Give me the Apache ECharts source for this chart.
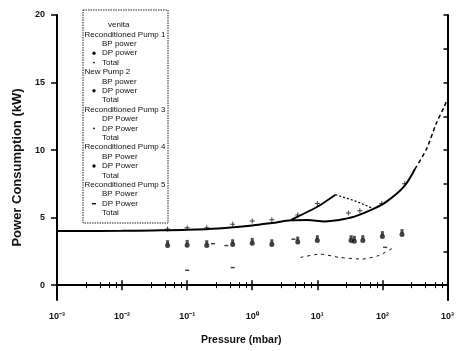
<!DOCTYPE html>
<html>
<head>
<meta charset="utf-8">
<script src="https://cdn.jsdelivr.net/npm/echarts@6/dist/echarts.min.js"></script>
<style>html,body{margin:0;padding:0;background:#fff}#c{width:457px;height:351px}</style>
</head>
<body>
<div id="c"></div>
<script>
// ---- data ----
const xTickValues = [0.001, 0.01, 0.1, 1, 10, 100, 1000];
const yTickValues = [0, 5, 10, 15, 20];
const yMinorTickValues = [0, 2.5, 5, 7.5, 10, 12.5, 15, 17.5, 20];

// Total (main solid curve) and its dashed extrapolation
const totalP = [0.001, 0.01, 0.03, 0.1, 0.3, 1, 2, 4, 7, 13, 20, 37, 74, 117, 214, 316];
const totalV = [4.0, 4.02, 4.05, 4.1, 4.2, 4.42, 4.6, 4.8, 4.82, 4.72, 4.8, 5.07, 5.66, 6.2, 7.3, 8.6];
const totalDashP = [316, 478, 676, 890, 1000];
const totalDashV = [8.6, 10.1, 12.0, 13.2, 13.8];

// second total curve with peak
const peakP = [4, 5, 10, 19];
const peakV = [4.85, 5.07, 5.8, 6.7];
const peakDashP = [19, 40, 70];
const peakDashV = [6.7, 6.2, 5.7];

// Total markers
const totMarkP = [0.05, 0.1, 0.2, 0.5, 1, 2, 5, 10, 30, 45, 98, 220];
const totMarkV = [4.15, 4.25, 4.25, 4.5, 4.75, 4.85, 5.2, 6.05, 5.35, 5.5, 6.05, 7.5];

// DP power markers
const dpP = [0.05, 0.1, 0.2, 0.5, 1, 2, 5, 10, 33, 37, 50, 100, 200];
const dpV = [2.93, 2.95, 2.93, 3.0, 3.1, 3.0, 3.2, 3.3, 3.3, 3.25, 3.3, 3.6, 3.75];

// BP power (lower dashed)
const bpP = [5.5, 11, 22, 49, 89, 150];
const bpV = [2.05, 2.3, 2.05, 1.93, 2.2, 2.8];
const bpIsoP = [0.1, 0.5];
const bpIsoV = [1.1, 1.3];

// other small dashes
const extraP = [0.25, 0.4, 4.3, 110];
const extraV = [3.07, 2.93, 3.4, 2.8];

// legend
const legendLabels = [
  'venita',
  'Reconditioned Pump 1', 'BP power', 'DP power', 'Total',
  'New Pump 2', 'BP power', 'DP power', 'Total',
  'Reconditioned Pump 3', 'DP Power', 'DP Power', 'Total',
  'Reconditioned Pump 4', 'BP Power', 'DP Power', 'Total',
  'Reconditioned Pump 5', 'BP Power', 'DP Power', 'Total'
];
const legendKinds = [
  't', 'h', 's', 'dot', 'sdot',
  'h', 's', 'dot', 's',
  'h', 's', 'sdot', 's',
  'h', 's', 'dot', 's',
  'h', 's', 'dash', 's'
];

// ---- build ----
const zip = (a, b) => a.map((v, i) => [v, b[i]]);
const FONT = '"Liberation Sans", Arial, sans-serif';
const sup = {'-': '\u207B', '0': '\u2070', '1': '\u00B9', '2': '\u00B2', '3': '\u00B3'};
function logLabel(v) {
  const e = Math.round(Math.log10(v));
  return '10' + String(e).split('').map(c => sup[c]).join('');
}

const legendEls = [];
legendEls.push({
  type: 'rect', shape: {x: 83, y: 10, width: 85, height: 213},
  style: {fill: '#fff', stroke: '#222', lineWidth: 1, lineDash: [1.5, 1]}, z: 10
});
legendLabels.forEach((t, i) => {
  const k = legendKinds[i];
  const y = 25 + i * 9.4;
  const x = k === 'h' ? 84.5 : (k === 't' ? 108 : 102);
  legendEls.push({
    type: 'text', x: x, y: y, z: 11,
    style: {text: t, fill: '#111', font: '8px ' + FONT, textVerticalAlign: 'middle'}
  });
  if (k === 'dot') legendEls.push({type: 'circle', shape: {cx: 94, cy: y, r: 1.7}, style: {fill: '#111'}, z: 11});
  if (k === 'sdot') legendEls.push({type: 'circle', shape: {cx: 94, cy: y, r: 0.9}, style: {fill: '#111'}, z: 11});
  if (k === 'dash') legendEls.push({type: 'rect', shape: {x: 92, y: y - 0.6, width: 4, height: 1.4}, style: {fill: '#111'}, z: 11});
});

const plus = 'path://M4,0h2v4h4v2h-4v4h-2v-4h-4v-2h4z';

const axisLineStyle = {color: '#000', width: 2};
const option = {
  animation: false,
  backgroundColor: '#fff',
  grid: {left: 57, right: 6, top: 15, bottom: 48},
  xAxis: [{
    type: 'log', logBase: 10, min: 0.001, max: 1000, splitNumber: 6,
    position: 'bottom',
    axisLine: {lineStyle: axisLineStyle},
    axisTick: {inside: true, length: 5, lineStyle: {color: '#000', width: 1.5}},
    minorTick: {show: true, splitNumber: 5, length: 3, lineStyle: {color: '#000', width: 1}},
    splitLine: {show: false},
    axisLabel: {formatter: logLabel, fontSize: 9, fontWeight: 'bold', color: '#111', fontFamily: FONT, margin: 12},
    name: 'Pressure (mbar)', nameLocation: 'middle', nameGap: 35,
    nameTextStyle: {fontSize: 10.5, fontWeight: 'bold', color: '#111', fontFamily: FONT, padding: [0, 22, 0, 0]}
  }, {
    type: 'log', logBase: 10, min: 0.001, max: 1000, splitNumber: 6,
    position: 'top',
    axisLine: {lineStyle: axisLineStyle},
    axisTick: {inside: true, length: 5, lineStyle: {color: '#000', width: 1.5}},
    minorTick: {show: true, splitNumber: 5, length: 3, lineStyle: {color: '#000', width: 1}},
    splitLine: {show: false},
    axisLabel: {show: false}
  }],
  yAxis: [{
    type: 'value', min: -1.1, max: 20, position: 'left',
    axisLine: {lineStyle: axisLineStyle},
    axisTick: {customValues: yTickValues, inside: false, length: 6, lineStyle: {color: '#000', width: 1.5}},
    axisLabel: {customValues: yTickValues, fontSize: 9, fontWeight: 'bold', color: '#111', fontFamily: FONT, margin: 12},
    splitLine: {show: false},
    name: 'Power Consumption (kW)', nameLocation: 'middle', nameGap: 30,
    nameTextStyle: {fontSize: 13, fontWeight: 'bold', color: '#111', fontFamily: FONT, padding: [0, 20, 0, 0]}
  }, {
    type: 'value', min: -1.1, max: 20, position: 'right',
    axisLine: {lineStyle: axisLineStyle},
    axisTick: {customValues: yMinorTickValues, inside: true, length: 4, lineStyle: {color: '#000', width: 1.5}},
    axisLabel: {show: false},
    splitLine: {show: false}
  }],
  graphic: legendEls,
  series: [
    {type: 'line', data: zip(totalP, totalV), smooth: 0.35, showSymbol: false,
      lineStyle: {color: '#000', width: 2}},
    {type: 'line', data: zip(totalDashP, totalDashV), smooth: 0.3, showSymbol: false,
      lineStyle: {color: '#000', width: 1.5, type: [4, 3]}},
    {type: 'line', data: zip(peakP, peakV), smooth: 0.2, showSymbol: false,
      lineStyle: {color: '#000', width: 1.8}},
    {type: 'line', data: zip(peakDashP, peakDashV), showSymbol: false,
      lineStyle: {color: '#000', width: 1.2, type: [2, 2]}},
    {type: 'scatter', data: zip(totMarkP, totMarkV), symbol: plus, symbolSize: 5,
      itemStyle: {color: '#111'}},
    {type: 'scatter', data: zip(dpP, dpV), symbol: 'circle', symbolSize: 5,
      itemStyle: {color: '#111'}},
    {type: 'scatter', data: zip(dpP, dpV.map(v => v + 0.25)), symbol: 'rect', symbolSize: [3, 4],
      itemStyle: {color: '#222'}},
    {type: 'line', data: zip(bpP, bpV), showSymbol: false, smooth: 0.2,
      lineStyle: {color: '#111', width: 1, type: [3, 4]}},
    {type: 'scatter', data: zip(bpIsoP, bpIsoV), symbol: 'rect', symbolSize: [4, 1.5],
      itemStyle: {color: '#111'}},
    {type: 'scatter', data: zip(extraP, extraV), symbol: 'rect', symbolSize: [4, 1.5],
      itemStyle: {color: '#111'}}
  ]
};
const chart = echarts.init(document.getElementById('c'), null, {renderer: 'canvas'});
chart.setOption(option);
</script>
</body>
</html>
